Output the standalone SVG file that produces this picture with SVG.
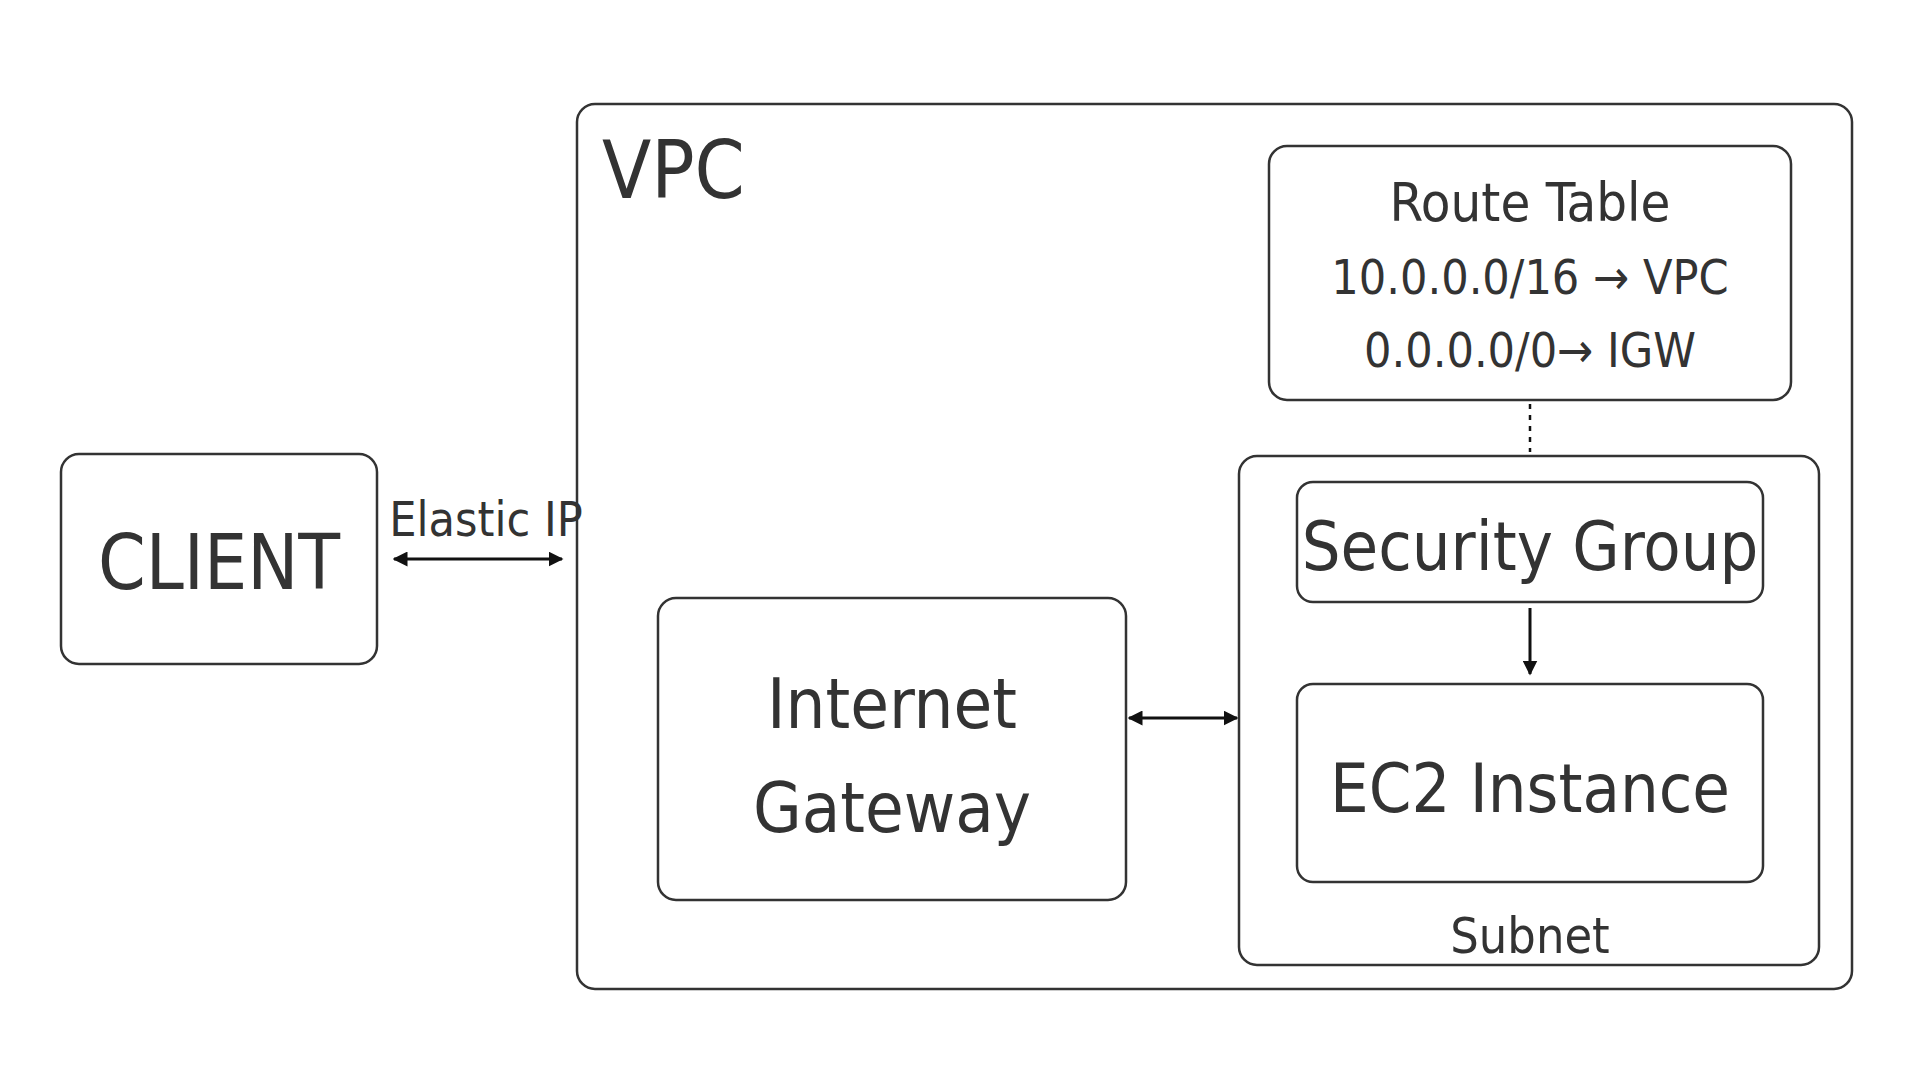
<svg xmlns="http://www.w3.org/2000/svg" width="1920" height="1080" viewBox="0 0 1920 1080">
<style>
.b{fill:#fff;stroke:#333;stroke-width:2.5}
text{font-family:"Liberation Sans Narrow","DejaVu Sans Condensed","Roboto",sans-serif;fill:#333;text-anchor:middle}
.c{stroke:#111;stroke-width:3;fill:none}
</style>
<defs>
<marker id="a" viewBox="0 0 10 10" refX="9" refY="5" markerWidth="5" markerHeight="5" orient="auto-start-reverse"><path d="M0,0 L10,5 L0,10 z" fill="#111"/></marker>
</defs>
<rect width="1920" height="1080" fill="#fff"/>
<g id="vpc"><rect class="b" x="577" y="104" width="1275" height="885" rx="18"/><text x="602" y="198" font-size="80" style="text-anchor:start">VPC</text></g>
<g id="client"><rect class="b" x="61" y="454" width="316" height="210" rx="18"/><text x="219" y="589" font-size="76">CLIENT</text></g>
<g id="routetable"><rect class="b" x="1269" y="146" width="522" height="254" rx="18"/>
<text x="1530" y="221" font-size="54">Route Table</text>
<text x="1530" y="294" font-size="48">10.0.0.0/16 → VPC</text>
<text x="1530" y="367" font-size="48">0.0.0.0/0→ IGW</text></g>
<g id="subnet"><rect class="b" x="1239" y="456" width="580" height="509" rx="18"/><text x="1530" y="953" font-size="50">Subnet</text></g>
<g id="sg"><rect class="b" x="1297" y="482" width="466" height="120" rx="16"/><text x="1530" y="570" font-size="68">Security Group</text></g>
<g id="ec2"><rect class="b" x="1297" y="684" width="466" height="198" rx="16"/><text x="1530" y="812" font-size="68">EC2 Instance</text></g>
<g id="igw"><rect class="b" x="658" y="598" width="468" height="302" rx="18"/>
<text x="892" y="728" font-size="70">Internet</text><text x="892" y="832" font-size="70">Gateway</text></g>
<g id="connectors">
<line class="c" x1="394" y1="559" x2="562" y2="559" marker-start="url(#a)" marker-end="url(#a)"/>
<text x="486" y="536" font-size="48">Elastic IP</text>
<line class="c" x1="1129" y1="718" x2="1237" y2="718" marker-start="url(#a)" marker-end="url(#a)"/>
<line class="c" x1="1530" y1="608" x2="1530" y2="674" marker-end="url(#a)"/>
<line x1="1530" y1="404" x2="1530" y2="452" stroke="#111" stroke-width="2.5" stroke-dasharray="5,6"/>
</g>
</svg>
